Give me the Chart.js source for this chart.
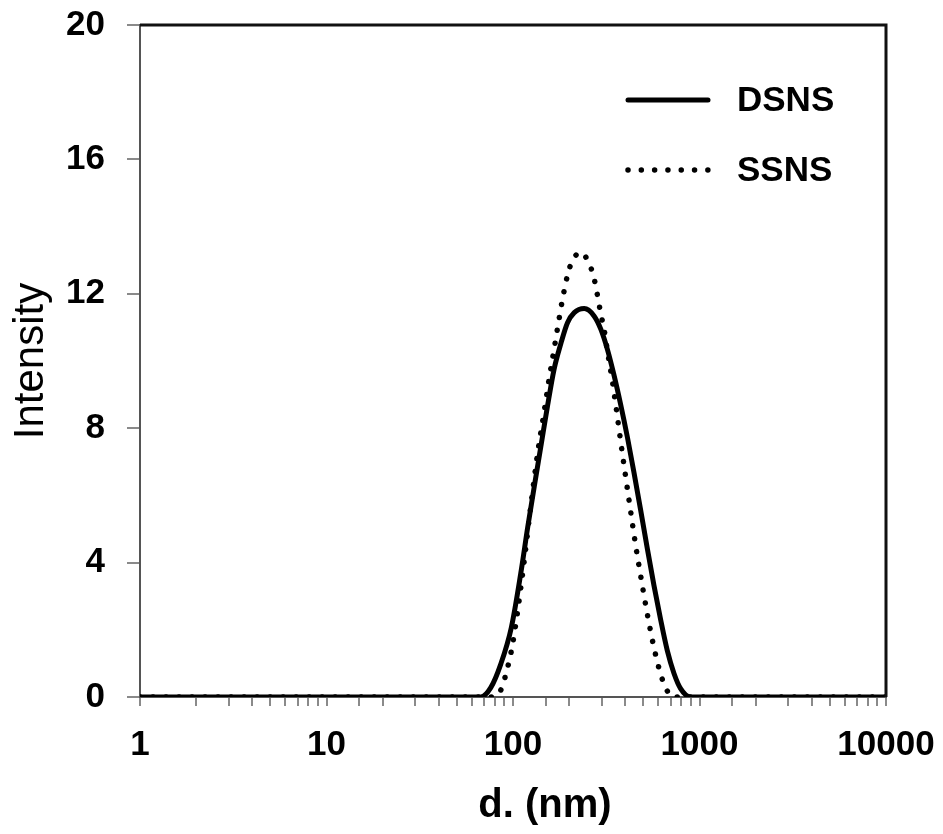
<!DOCTYPE html>
<html>
<head>
<meta charset="utf-8">
<script src="https://cdn.jsdelivr.net/npm/chart.js@4.4.1/dist/chart.umd.min.js"></script>
<style>
  html, body { margin: 0; padding: 0; background: #fff; }
  #wrap { width: 943px; height: 834px; }
</style>
</head>
<body>
<div id="wrap"><canvas id="c" width="943" height="834"></canvas></div>
<script>
// DLS size distribution, intensity weighted
const dsnsD = [1, 67, 76, 86, 98, 110, 120, 130, 141, 153, 166, 181, 196, 213, 241, 272, 296, 321, 348, 378, 411, 446, 484, 525, 570, 619, 672, 730, 792, 895, 10000];
const dsnsI = [0, 0, 0.28, 0.98, 2.07, 3.67, 5.06, 6.26, 7.45, 8.65, 9.75, 10.54, 11.14, 11.44, 11.56, 11.34, 10.94, 10.34, 9.58, 8.7, 7.72, 6.66, 5.55, 4.42, 3.32, 2.3, 1.38, 0.7, 0.25, 0, 0];

const ssnsD = [1, 79, 88, 92, 95.5, 99.5, 106, 115, 125, 135.5, 147, 156, 166, 173, 184.5, 196, 208.5, 233, 256, 270, 284, 296, 308, 321, 341, 355.5, 378, 402, 428, 455, 484, 525, 570, 619, 658, 715, 10000];
const ssnsI = [0, 0, 0.33, 0.73, 1.08, 1.57, 2.57, 4.07, 5.76, 7.25, 8.5, 9.45, 10.34, 10.95, 11.85, 12.55, 13.0, 13.23, 12.89, 12.54, 11.94, 11.39, 10.94, 10.29, 9.4, 8.7, 7.6, 6.55, 5.5, 4.5, 3.6, 2.47, 1.47, 0.68, 0.28, 0, 0];

const yTicks = [0, 4, 8, 12, 16, 20];
const xLabels = [1, 10, 100, 1000, 10000];
const xTitle = "d. (nm)";

const FONT = "'Liberation Sans', Arial, sans-serif";
const AXIS_GRAY = "#8a8a8a";

const toXY = (xs, ys) => xs.map((x, i) => ({ x, y: ys[i] }));

// legend drawn inside the plot, top right
const legendPlugin = {
  id: "innerLegend",
  afterDraw(chart) {
    const ctx = chart.ctx;
    const items = [
      { label: "DSNS", y: 100, dash: [], width: 5 },
      { label: "SSNS", y: 170, dash: [0.01, 13.3], width: 5.5 },
    ];
    ctx.save();
    items.forEach((it) => {
      ctx.beginPath();
      ctx.strokeStyle = "#000";
      ctx.lineWidth = it.width;
      ctx.lineCap = "round";
      ctx.setLineDash(it.dash);
      ctx.moveTo(628, it.y);
      ctx.lineTo(708, it.y);
      ctx.stroke();
      ctx.setLineDash([]);
      ctx.fillStyle = "#000";
      ctx.font = "bold 35px " + FONT;
      ctx.textBaseline = "middle";
      ctx.textAlign = "left";
      ctx.fillText(it.label, 737, it.y + 1);
    });
    ctx.restore();
  },
};

// black frame on top and right, plus the x axis title (sits a bit right of centre)
const framePlugin = {
  id: "frame",
  afterDraw(chart) {
    const { left, right, top, bottom } = chart.chartArea;
    const ctx = chart.ctx;
    ctx.save();
    ctx.strokeStyle = "#111";
    ctx.lineWidth = 3;
    ctx.beginPath();
    ctx.moveTo(left, top);
    ctx.lineTo(right, top);
    ctx.lineTo(right, bottom);
    ctx.stroke();

    ctx.fillStyle = "#000";
    ctx.font = "bold 40px " + FONT;
    ctx.textAlign = "center";
    ctx.textBaseline = "middle";
    ctx.fillText(xTitle, (left + right) / 2 + 32, 806);
    ctx.restore();
  },
};

new Chart(document.getElementById("c"), {
  type: "line",
  data: {
    datasets: [
      {
        label: "SSNS",
        data: toXY(ssnsD, ssnsI),
        borderColor: "#000",
        borderWidth: 5.5,
        borderDash: [0.01, 13],
        borderCapStyle: "round",
        cubicInterpolationMode: "monotone",
        pointRadius: 0,
        fill: false,
      },
      {
        label: "DSNS",
        data: toXY(dsnsD, dsnsI),
        borderColor: "#000",
        borderWidth: 5,
        cubicInterpolationMode: "monotone",
        pointRadius: 0,
        fill: false,
      },
    ],
  },
  options: {
    responsive: false,
    animation: false,
    layout: { padding: { left: 0, right: 57, top: 25, bottom: 0 } },
    plugins: { legend: { display: false }, tooltip: { enabled: false } },
    scales: {
      x: {
        type: "logarithmic",
        min: 1,
        max: 10000,
        afterFit: (s) => {
          s.height = 137;
          s.paddingLeft = 0;
          s.paddingRight = 0;
        },
        border: { color: "#555", width: 2 },
        grid: { drawOnChartArea: false, drawTicks: true, tickLength: 9, color: AXIS_GRAY, lineWidth: 2 },
        ticks: {
          autoSkip: false,
          maxRotation: 0,
          padding: 18,
          color: "#000",
          font: { family: FONT, size: 35, weight: "bold" },
          callback: (v) => (xLabels.includes(Number(v)) ? String(v) : ""),
        },
        title: { display: false },
      },
      y: {
        min: 0,
        max: 20,
        afterFit: (s) => {
          s.width = 140;
          s.paddingTop = 0;
          s.paddingBottom = 0;
        },
        afterBuildTicks: (s) => { s.ticks = yTicks.map((v) => ({ value: v })); },
        border: { color: "#555", width: 2 },
        grid: { drawOnChartArea: false, drawTicks: true, tickLength: 13, color: AXIS_GRAY, lineWidth: 2 },
        ticks: {
          padding: 22,
          color: "#000",
          font: { family: FONT, size: 35, weight: "bold" },
        },
        title: {
          display: true,
          text: "Intensity",
          color: "#000",
          font: { family: FONT, size: 42 },
          padding: { top: 6, bottom: 6 },
        },
      },
    },
  },
  plugins: [framePlugin, legendPlugin],
});
</script>
</body>
</html>
